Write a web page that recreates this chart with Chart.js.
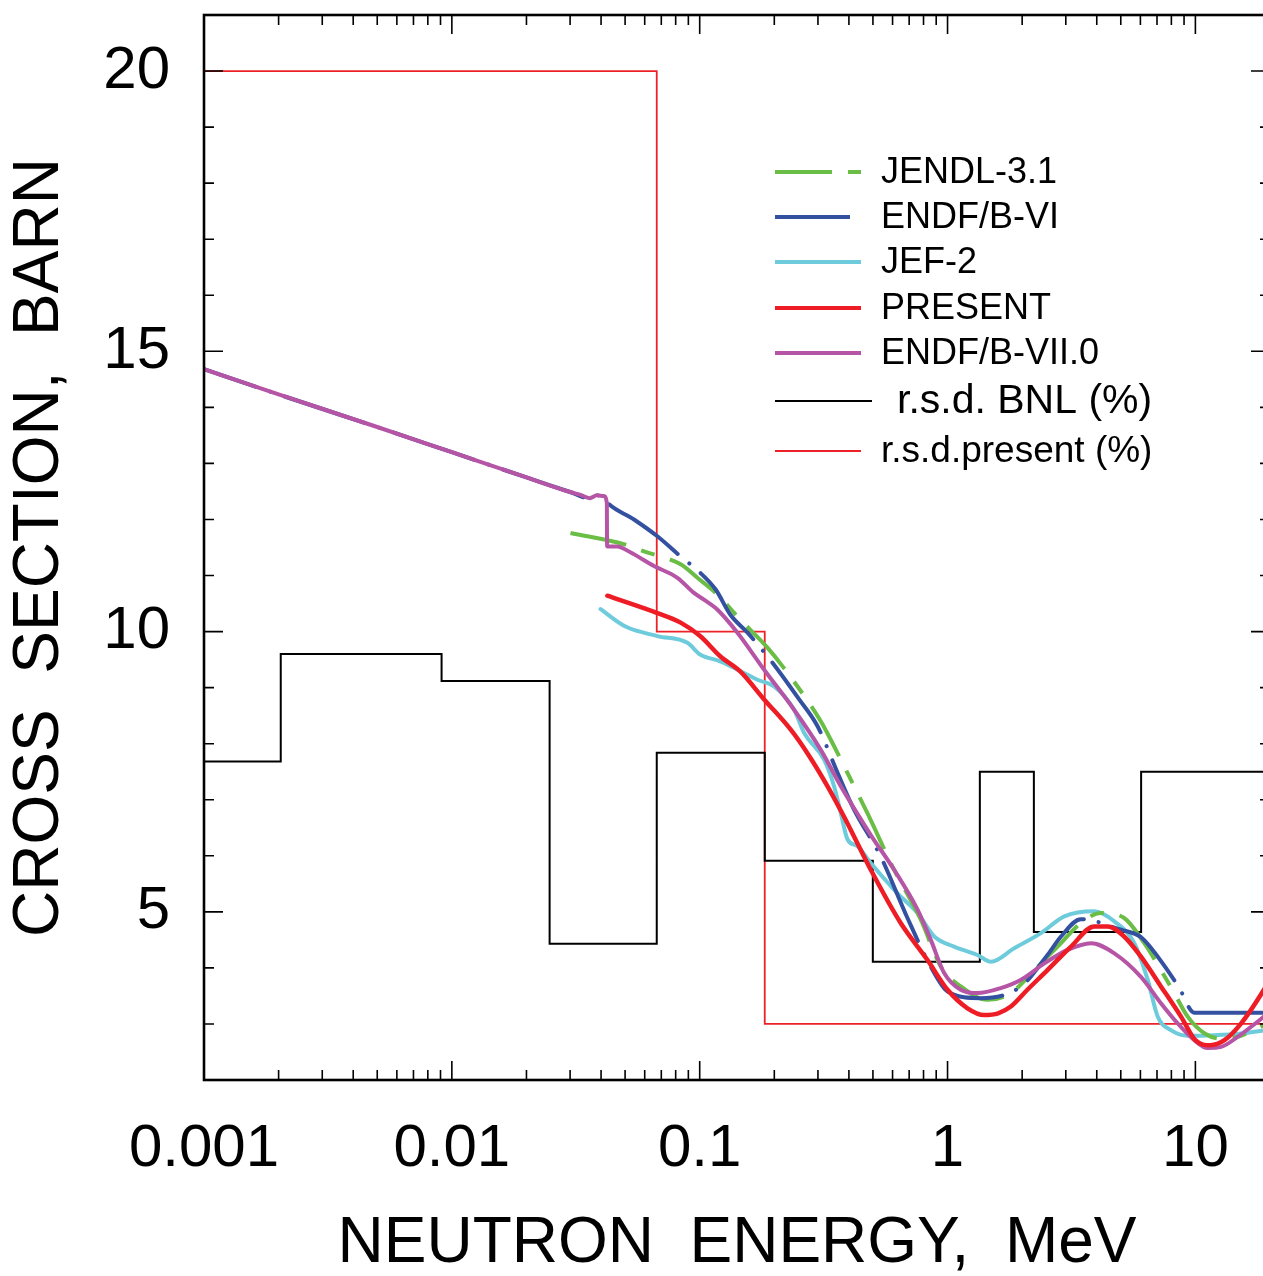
<!DOCTYPE html>
<html lang="en">
<head>
<meta charset="UTF-8" />
<title>Cross section vs neutron energy</title>
<script src="https://cdn.jsdelivr.net/npm/chart.js"></script>
<style>
  html, body {
    margin: 0;
    padding: 0;
    background: #fff;
    overflow: hidden;
  }
  canvas { display: block; }
</style>
</head>
<body>
<canvas id="xsChart" width="1270" height="1276"></canvas>
<script>
// tick labels
const xTickValues = [0.001, 0.01, 0.1, 1, 10];
const xTickLabels = ["0.001", "0.01", "0.1", "1", "10"];
const yTickValues = [5, 10, 15, 20];
const yTickLabels = ["5", "10", "15", "20"];

// JENDL-3.1
const jendlE = [0.0301, 0.0502, 0.0596, 0.0838, 0.0979, 0.118, 0.146, 0.188, 0.216, 0.308, 0.338, 0.433, 0.475, 0.609, 0.78, 0.94, 1.13, 1.45, 1.8, 2.24, 2.78, 3.45, 4.16, 5.16, 6.22, 7.26, 8.22, 9.31, 10.9, 12.7, 14.8, 18.9, 20];
const jendlXs = [11.76, 11.55, 11.43, 11.20, 10.96, 10.66, 10.21, 9.71, 9.38, 8.40, 8.07, 7.12, 6.76, 5.75, 4.86, 4.02, 3.67, 3.43, 3.55, 3.96, 4.38, 4.80, 4.98, 4.89, 4.44, 3.96, 3.55, 3.13, 2.83, 2.74, 2.77, 2.98, 3.02];

// ENDF/B-VI
const endf6E = [0.001, 0.002, 0.005, 0.01, 0.02, 0.03, 0.035, 0.0385, 0.0405, 0.0424, 0.0543, 0.0675, 0.0838, 0.0993, 0.116, 0.133, 0.156, 0.197, 0.252, 0.299, 0.36, 0.42, 0.537, 0.689, 0.856, 1.0, 1.36, 1.98, 2.53, 2.87, 3.45, 5.01, 6.03, 6.72, 7.6, 8.61, 9.9, 15.3, 20];
const endf6Xs = [14.68, 14.23, 13.65, 13.20, 12.75, 12.49, 12.39, 12.43, 12.42, 12.30, 12.00, 11.70, 11.34, 11.07, 10.75, 10.30, 9.98, 9.44, 8.79, 8.31, 7.48, 6.82, 5.99, 4.89, 4.02, 3.58, 3.46, 3.67, 4.23, 4.56, 4.87, 4.68, 4.55, 4.32, 4.00, 3.64, 3.20, 3.20, 3.20];

// JEF-2
const jef2E = [0.0398, 0.0502, 0.0675, 0.0892, 0.1004, 0.121, 0.156, 0.171, 0.1996, 0.240, 0.264, 0.318, 0.3485, 0.371, 0.395, 0.433, 0.49, 0.628, 0.757, 0.884, 1.063, 1.32, 1.496, 1.857, 2.38, 2.96, 3.91, 4.71, 5.67, 6.42, 7.05, 7.97, 9.31, 11.9, 15.3, 20];
const jef2Xs = [10.40, 10.09, 9.92, 9.80, 9.59, 9.47, 9.23, 9.14, 9.02, 8.61, 8.19, 7.71, 7.24, 6.76, 6.29, 6.17, 5.87, 5.33, 4.98, 4.56, 4.38, 4.23, 4.11, 4.35, 4.62, 4.92, 5.01, 4.83, 4.44, 3.79, 3.13, 2.89, 2.79, 2.80, 2.83, 2.90];

// PRESENT
const presentE = [0.0424, 0.0675, 0.0838, 0.1004, 0.121, 0.1457, 0.182, 0.233, 0.272, 0.328, 0.382, 0.49, 0.647, 0.83, 1.0, 1.204, 1.405, 1.6, 1.8, 2.10, 2.53, 3.15, 3.91, 4.43, 5.16, 6.03, 7.26, 8.75, 10.0, 11.5, 13.1, 15.3, 18.9, 20];
const presentXs = [10.64, 10.33, 10.16, 9.92, 9.56, 9.29, 8.79, 8.25, 7.83, 7.24, 6.70, 5.75, 4.80, 4.14, 3.61, 3.28, 3.16, 3.19, 3.31, 3.61, 3.96, 4.38, 4.74, 4.74, 4.56, 4.20, 3.67, 3.13, 2.71, 2.62, 2.71, 3.01, 3.61, 3.80];

// ENDF/B-VII.0
const endf7E = [0.001, 0.002, 0.005, 0.01, 0.02, 0.03, 0.033, 0.036, 0.0385, 0.041, 0.0422, 0.0423, 0.0465, 0.0527, 0.0654, 0.0813, 0.0948, 0.104, 0.118, 0.142, 0.182, 0.240, 0.308, 0.371, 0.44, 0.49, 0.609, 0.757, 0.856, 0.969, 1.13, 1.32, 1.64, 1.98, 2.46, 3.05, 3.79, 4.71, 6.03, 7.26, 8.48, 9.9, 11.2, 12.7, 14.8, 18.9, 20];
const endf7Xs = [14.68, 14.23, 13.65, 13.20, 12.75, 12.49, 12.44, 12.38, 12.43, 12.42, 12.30, 11.52, 11.52, 11.41, 11.17, 10.96, 10.69, 10.57, 10.39, 9.98, 9.32, 8.61, 7.89, 7.24, 6.70, 6.37, 5.75, 5.04, 4.50, 3.91, 3.61, 3.55, 3.64, 3.79, 4.08, 4.32, 4.44, 4.26, 3.84, 3.37, 3.01, 2.71, 2.57, 2.59, 2.77, 3.13, 3.22];

// relative standard deviations (%), each value holds from its energy to the next
const rsdBnlE = [0.001, 0.00204, 0.00909, 0.0248, 0.0671, 0.183, 0.4995, 1.35, 2.23, 6.04, 20];
const rsdBnlVal = [7.68, 9.60, 9.12, 4.43, 7.84, 5.91, 4.11, 7.50, 4.64, 7.50, 7.50];
const rsdPresentE = [0.001, 0.0671, 0.183, 20];
const rsdPresentVal = [20, 10, 3, 3];

const seriesNames = ["JENDL-3.1", "ENDF/B-VI", "JEF-2", "PRESENT", "ENDF/B-VII.0", "r.s.d. BNL (%)", "r.s.d.present (%)"];

const FONT = "'Liberation Sans', Arial, sans-serif";

function pts(xs, ys) {
  return xs.map((x, i) => ({ x: x, y: ys[i] }));
}

const curve = (label, xs, ys, color, extra) => Object.assign({
  label: label,
  data: pts(xs, ys),
  borderColor: color,
  borderWidth: 4,
  pointRadius: 0,
  fill: false,
  cubicInterpolationMode: "monotone",
  borderCapStyle: "round",
  borderJoinStyle: "round",
}, extra || {});

// hold each value until the next energy (horizontal first, then vertical)
const steps = (label, xs, ys, color, width) => ({
  label: label,
  data: pts(xs, ys),
  stepped: "before",
  borderColor: color,
  borderWidth: width,
  pointRadius: 0,
  fill: false,
});

// first dataset is painted last (on top)
const datasets = [
  curve(seriesNames[3], presentE, presentXs, "#ee1c25", { borderWidth: 4.5 }),
  curve(seriesNames[4], endf7E, endf7Xs, "#b655a6"),
  curve(seriesNames[1], endf6E, endf6Xs, "#3451a1", { borderDash: [85, 15, 0.1, 15], borderDashOffset: 30 }),
  curve(seriesNames[0], jendlE, jendlXs, "#6abd45", { borderDash: [57, 16, 14, 16], borderCapStyle: "butt" }),
  curve(seriesNames[2], jef2E, jef2Xs, "#6dcbdc"),
  steps(seriesNames[5], rsdBnlE, rsdBnlVal, "#000", 2),
  steps(seriesNames[6], rsdPresentE, rsdPresentVal, "#ed2228", 1.8),
];

// frame + inward ticks on all four sides
const frameTicks = {
  id: "frameTicks",
  afterDatasetsDraw(chart) {
    const { ctx, chartArea: a } = chart;
    const x = chart.scales.x, y = chart.scales.y;
    ctx.save();
    ctx.strokeStyle = "#000";
    ctx.lineWidth = 1.6;
    ctx.beginPath();
    for (let d = -3; d <= 1; d++) {
      for (let m = 1; m <= 9; m++) {
        const v = m * Math.pow(10, d);
        if (v > x.max) continue;
        const px = x.getPixelForValue(v);
        const len = m === 1 ? 19 : 10;
        ctx.moveTo(px, a.bottom); ctx.lineTo(px, a.bottom - len);
        ctx.moveTo(px, a.top); ctx.lineTo(px, a.top + len);
      }
    }
    for (let v = 3; v <= 20; v++) {
      const py = y.getPixelForValue(v);
      const len = v % 5 === 0 ? 19 : 10;
      ctx.moveTo(a.left, py); ctx.lineTo(a.left + len, py);
      ctx.moveTo(a.right, py); ctx.lineTo(a.right - len, py);
    }
    ctx.stroke();
    ctx.lineWidth = 2.6;
    ctx.strokeRect(a.left, a.top, a.right - a.left, a.bottom - a.top);
    ctx.restore();
  },
};

// legend inside the plot
const legendBox = {
  id: "legendBox",
  afterDraw(chart) {
    const ctx = chart.ctx;
    const rows = [
      { ds: 3, y: 172, end: 861, tx: 881, size: 36 },
      { ds: 2, y: 217, end: 850, tx: 881, size: 36 },
      { ds: 4, y: 262, end: 861, tx: 881, size: 36 },
      { ds: 0, y: 308, end: 861, tx: 881, size: 36 },
      { ds: 1, y: 353, end: 861, tx: 881, size: 36 },
      { ds: 5, y: 401, end: 872, tx: 897, size: 41 },
      { ds: 6, y: 451, end: 861, tx: 881, size: 37 },
    ];
    ctx.save();
    rows.forEach((r) => {
      const d = chart.data.datasets[r.ds];
      ctx.strokeStyle = d.borderColor;
      ctx.lineWidth = d.borderWidth > 3 ? 4 : d.borderWidth;
      ctx.lineCap = "butt";
      ctx.setLineDash(r.ds === 3 ? [57, 16, 14, 16] : []);
      ctx.beginPath();
      ctx.moveTo(775, r.y);
      ctx.lineTo(r.end, r.y);
      ctx.stroke();
      ctx.setLineDash([]);
      ctx.fillStyle = "#000";
      ctx.font = r.size + "px " + FONT;
      ctx.textBaseline = "middle";
      ctx.textAlign = "left";
      ctx.fillText(d.label, r.tx, r.y + 1);
    });
    ctx.restore();
  },
};

new Chart(document.getElementById("xsChart").getContext("2d"), {
  type: "line",
  data: { datasets: datasets },
  plugins: [frameTicks, legendBox],
  options: {
    responsive: false,
    animation: false,
    events: [],
    layout: { padding: { top: 15, left: 0, right: 0, bottom: 0 } },
    plugins: {
      legend: { display: false },
      tooltip: { enabled: false },
    },
    scales: {
      x: {
        type: "logarithmic",
        min: 0.001,
        max: 20,
        grid: { display: false, drawTicks: false },
        border: { display: false },
        afterBuildTicks: (s) => { s.ticks = xTickValues.map((v) => ({ value: v })); },
        afterFit: (s) => { s.height = 196; s.paddingLeft = 0; s.paddingRight = 0; },
        ticks: {
          autoSkip: false,
          maxRotation: 0,
          minRotation: 0,
          padding: 33,
          color: "#000",
          font: { family: FONT, size: 60 },
          callback: (v, i) => xTickLabels[i],
        },
        title: {
          display: true,
          text: "NEUTRON  ENERGY,  MeV",
          color: "#000",
          font: { family: FONT, size: 64, lineHeight: 1 },
          padding: { top: 0, bottom: 0 },
        },
      },
      y: {
        type: "linear",
        min: 2,
        max: 21,
        grid: { display: false, drawTicks: false },
        border: { display: false },
        afterBuildTicks: (s) => { s.ticks = yTickValues.map((v) => ({ value: v })); },
        afterFit: (s) => { s.width = 204; s.paddingTop = 0; s.paddingBottom = 0; },
        ticks: {
          padding: 34,
          color: "#000",
          font: { family: FONT, size: 60 },
          callback: (v, i) => yTickLabels[i],
        },
        title: {
          display: true,
          text: "CROSS  SECTION,  BARN",
          color: "#000",
          font: { family: FONT, size: 64, lineHeight: 1.2 },
          padding: { top: 2, bottom: 0 },
        },
      },
    },
  },
});
</script>
</body>
</html>
